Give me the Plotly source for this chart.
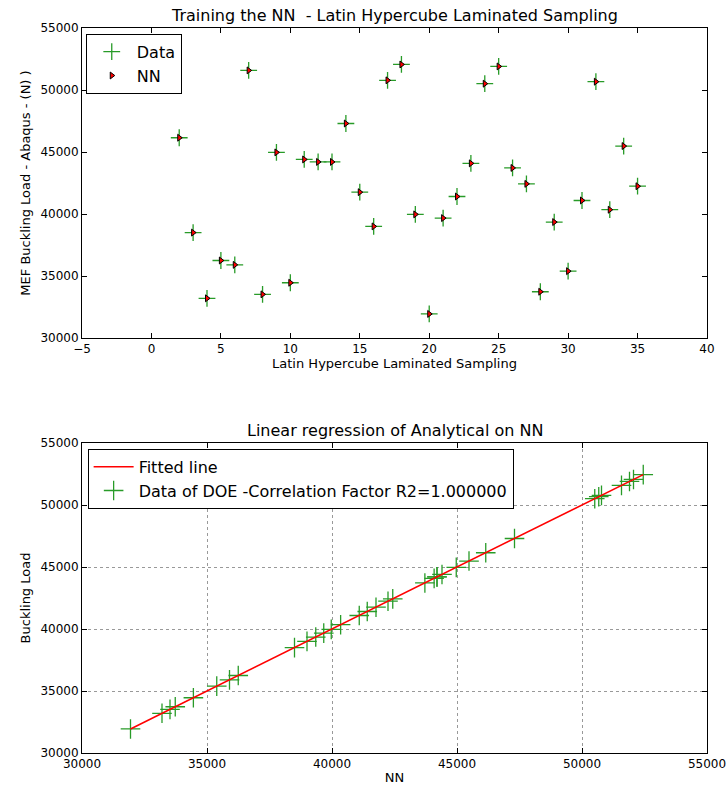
import numpy as np
import plotly.graph_objects as go

# ---------------- data ----------------
lhs_index = list(range(1, 36))
data_load = [52450, 46150, 38500, 33200, 36250, 35900, 51580, 33520, 44970, 34455,
             44400, 44200, 44200, 47300, 41760, 39000, 50780, 52060, 39970, 31940,
             39670, 41410, 44085, 50510, 51900, 43715, 42430, 33730, 39350, 35390,
             41090, 50670, 40345, 45480, 42240]
nn_load = [52450, 46150, 38500, 33200, 36250, 35900, 51580, 33520, 44970, 34455,
           44400, 44200, 44200, 47300, 41760, 39000, 50780, 52060, 39970, 31940,
           39670, 41410, 44085, 50510, 51900, 43715, 42430, 33730, 39350, 35390,
           41090, 50670, 40345, 45480, 42240]
r2_text = "1.000000"

# ---------------- figure ----------------
FONT = "DejaVu Sans"
GREEN = "rgb(40,155,40)"

fig = go.Figure()

# Top subplot
fig.add_trace(go.Scatter(
    x=lhs_index, y=data_load, mode="markers", name="Data",
    marker=dict(symbol="cross-thin", size=12, line=dict(color=GREEN, width=1.3)),
    xaxis="x", yaxis="y", legend="legend"))
fig.add_trace(go.Scatter(
    x=lhs_index, y=nn_load, mode="markers", name="NN",
    marker=dict(symbol="triangle-right", size=6, color="red",
                line=dict(color="black", width=1)),
    xaxis="x", yaxis="y", legend="legend"))

# Bottom subplot
xs = np.array(nn_load, dtype=float)
ys = np.array(data_load, dtype=float)
slope, intercept = np.polyfit(xs, ys, 1)
xl = np.array([xs.min(), xs.max()])
fig.add_trace(go.Scatter(
    x=xs, y=ys, mode="markers",
    name="Data of DOE -Correlation Factor R2=" + r2_text,
    marker=dict(symbol="cross-thin", size=14, line=dict(color=GREEN, width=1.3)),
    xaxis="x2", yaxis="y2", legend="legend2", legendrank=2))
fig.add_trace(go.Scatter(
    x=xl, y=slope * xl + intercept, mode="lines", name="Fitted line",
    line=dict(color="red", width=1.6),
    xaxis="x2", yaxis="y2", legend="legend2", legendrank=1))

axis_common = dict(
    showline=True, linecolor="black", linewidth=1, mirror="allticks",
    ticks="inside", ticklen=5, tickcolor="black", tickwidth=1,
    zeroline=False, automargin=False,
    tickfont=dict(family=FONT, size=12, color="black"),
    title_font=dict(family=FONT, size=13, color="black"),
)

top_dom = [1 - 310 / 725, 1.0]
bot_dom = [0.0, 310 / 725]

fig.update_layout(
    width=727, height=785,
    margin=dict(l=82, r=20, t=28, b=32),
    paper_bgcolor="white", plot_bgcolor="white",
    font=dict(family=FONT, color="black"),
    xaxis=dict(domain=[0, 1], anchor="y", range=[-5, 40], dtick=5,
               showgrid=False, title=dict(text="Latin Hypercube Laminated Sampling", standoff=2),
               **axis_common),
    yaxis=dict(domain=top_dom, anchor="x", range=[30000, 55000], dtick=5000,
               showgrid=False, title=dict(text="MEF Buckling Load - Abaqus - (N) )", standoff=6),
               tickformat="d", **axis_common),
    xaxis2=dict(domain=[0, 1], anchor="y2", range=[30000, 55000], dtick=5000,
                showgrid=True, gridcolor="#999", griddash="dot", gridwidth=1,
                tickformat="d", title=dict(text="NN", standoff=2), **axis_common),
    yaxis2=dict(domain=bot_dom, anchor="x2", range=[30000, 55000], dtick=5000,
                showgrid=True, gridcolor="#999", griddash="dot", gridwidth=1,
                tickformat="d", title=dict(text="Buckling Load", standoff=6), **axis_common),
    legend=dict(x=0.006, y=0.992, xref="paper", yref="paper",
                xanchor="left", yanchor="top",
                bgcolor="white", bordercolor="black", borderwidth=1,
                font=dict(family=FONT, size=16, color="black"),
                tracegroupgap=0, itemwidth=40),
    legend2=dict(x=0.009, y=bot_dom[1] - 0.008, xref="paper", yref="paper",
                 xanchor="left", yanchor="top",
                 bgcolor="white", bordercolor="black", borderwidth=1,
                 font=dict(family=FONT, size=16, color="black"),
                 traceorder="normal", itemwidth=40),
    showlegend=True,
    annotations=[
        dict(text="Training the NN  - Latin Hypercube Laminated Sampling",
             x=0.5, y=top_dom[1], xref="paper", yref="paper",
             xanchor="center", yanchor="bottom", yshift=1, showarrow=False,
             font=dict(family=FONT, size=16, color="black")),
        dict(text="Linear regression of Analytical on NN",
             x=0.5, y=bot_dom[1], xref="paper", yref="paper",
             xanchor="center", yanchor="bottom", yshift=1, showarrow=False,
             font=dict(family=FONT, size=16, color="black")),
    ],
)

fig.write_html(
    "out.html",
    config={"displayModeBar": False},
    post_script="document.body.style.margin='0px';document.body.style.overflow='hidden';",
)
